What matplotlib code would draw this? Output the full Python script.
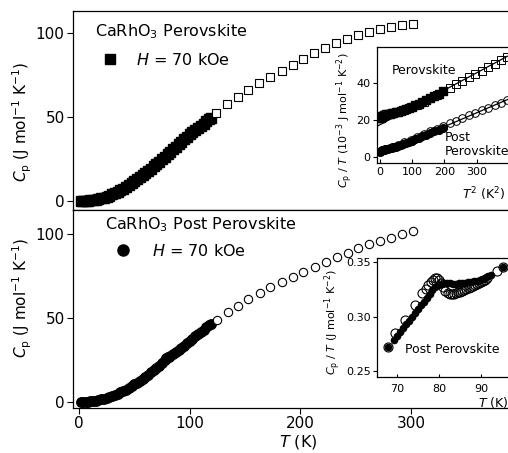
import matplotlib
matplotlib.use("Agg")
import matplotlib.pyplot as plt
from matplotlib.lines import Line2D

plt.rcParams["font.family"] = ["DejaVu Sans"]
plt.rcParams["mathtext.fontset"] = "dejavusans"

# ---- main panels: Cp vs T ----
# perovskite, H = 70 kOe (filled)
pv_T_fill = [2, 4, 6, 8, 10, 12.5, 15, 17.5, 20, 22.5, 25, 27.5, 30, 32.5, 35, 37.5, 40,
             42.5, 45, 47.5, 50, 52.5, 55, 57.5, 60, 62.5, 65, 67.5, 70, 72.5, 75, 77.5,
             80, 82.5, 85, 87.5, 90, 92.5, 95, 97.5, 100, 102.5, 105, 107.5, 110, 112.5,
             115, 117.5, 119]
pv_Cp_fill = [0.0, 0.05, 0.1, 0.2, 0.3, 0.5, 0.8, 1.1, 1.5, 2.0, 2.6, 3.2, 3.9, 4.6, 5.4,
              6.3, 7.3, 8.3, 9.3, 10.4, 11.6, 12.8, 14.0, 15.3, 16.6, 17.9, 19.2, 20.6,
              22.0, 23.4, 24.9, 26.4, 27.9, 29.4, 30.9, 32.4, 33.9, 35.3, 36.8, 38.2, 39.6,
              41.0, 42.3, 43.6, 44.9, 46.1, 47.3, 48.5, 49.3]
# perovskite, open
pv_T_open = [124, 134, 144, 153, 163, 173, 183, 193, 202, 212, 222, 232, 242, 252, 262,
             272, 282, 292, 302]
pv_Cp_open = [52.2, 57.5, 62.0, 66.0, 70.0, 73.8, 77.2, 81.0, 84.5, 88.0, 91.0, 94.0,
              96.4, 98.8, 100.6, 102.4, 103.6, 104.8, 105.3]

# post perovskite, H = 70 kOe (filled)
pp_T_fill = [2, 4, 6, 8, 10, 12.5, 15, 17.5, 20, 22.5, 25, 27.5, 30, 32.5, 35, 37.5, 40,
             42.5, 45, 47.5, 50, 52.5, 55, 57.5, 60, 62.5, 65, 67.5, 70, 72.5, 75, 77.5,
             79, 80, 81, 82.5, 85, 87.5, 90, 92.5, 95, 97.5, 100, 102.5, 105, 107.5, 110,
             112.5, 115, 117.5, 119]
pp_Cp_fill = [0.0, 0.05, 0.1, 0.2, 0.3, 0.5, 0.8, 1.1, 1.5, 1.9, 2.4, 2.9, 3.5, 4.2, 4.9,
              5.7, 6.5, 7.4, 8.4, 9.4, 10.4, 11.5, 12.6, 13.8, 15.0, 16.3, 17.6, 18.9,
              20.2, 21.7, 23.2, 25.2, 26.4, 26.6, 26.7, 27.1, 28.3, 29.6, 30.9, 32.2, 33.6,
              34.9, 36.3, 37.6, 39.0, 40.4, 41.8, 43.1, 44.5, 45.7, 46.5]
# post perovskite, open
pp_T_open = [124.5, 134.6, 143.7, 153, 163.5, 173, 183, 193, 202.6, 213, 223, 232.8,
             242.7, 252, 262, 272, 281.5, 292, 302]
pp_Cp_open = [48.8, 53.6, 57.0, 61.3, 64.9, 68.5, 71.4, 74.4, 77.4, 80.4, 83.3, 86.3,
              88.7, 91.7, 94.0, 95.8, 97.6, 100.0, 101.8]

# ---- inset 1: Cp/T vs T^2 (10^-3 J mol^-1 K^-2) ----
ins_pv_T2_fill = [1, 2, 4, 6, 9, 12, 16, 20, 25, 30, 36, 42, 49, 56, 64, 72, 81, 90, 100,
                  110, 121, 132, 144, 156, 169, 182, 196]
ins_pv_C_fill = [21.0, 21.4, 21.9, 22.2, 22.5, 22.7, 22.9, 23.1, 23.3, 23.5, 23.7, 23.9,
                 24.2, 24.5, 24.9, 25.4, 25.9, 26.5, 27.2, 28.0, 28.9, 29.8, 30.9, 32.0,
                 33.2, 34.4, 35.7]
ins_pv_T2_open = [16, 36, 56, 76, 96, 116, 136, 156, 176, 196, 216, 236, 256, 276, 296,
                  316, 336, 356, 376, 396]
ins_pv_C_open = [22.8, 23.7, 24.6, 25.6, 26.9, 28.4, 30.1, 32.0, 33.9, 35.7, 37.6, 39.4,
                 41.3, 43.2, 45.0, 46.9, 48.8, 50.6, 52.5, 54.3]
ins_pp_T2_fill = ins_pv_T2_fill
ins_pp_C_fill = [3.0, 3.2, 3.4, 3.6, 3.8, 4.0, 4.2, 4.4, 4.6, 4.8, 5.0, 5.3, 5.7, 6.1, 6.5,
                 7.0, 7.6, 8.2, 8.9, 9.6, 10.4, 11.2, 12.1, 13.0, 14.0, 14.9, 16.0]
ins_pp_T2_open = ins_pv_T2_open
ins_pp_C_open = [4.0, 5.2, 6.4, 7.9, 9.4, 10.9, 12.4, 13.9, 15.4, 16.9, 18.4, 19.8, 21.2,
                 22.6, 24.0, 25.4, 26.8, 28.2, 29.6, 31.0]
# linear fits
fit_T2 = [-12, 400]
fit_pv = [16.4, 55.1]
fit_pp = [0.6, 31.5]

# ---- inset 2: post perovskite Cp/T vs T near transition ----
tr_T_fill = [67.8, 69.3, 70.0, 70.7, 71.4, 72.1, 72.8, 73.5, 74.2, 74.9, 75.6, 76.3, 77.0,
             77.7, 78.4, 79.1, 79.8, 80.5, 81.2, 81.9, 82.6, 83.3, 84.0, 84.7, 85.4, 86.1,
             86.8, 87.5, 88.2, 88.9, 89.6, 90.3, 91.0, 91.7, 92.4, 95.3]
tr_C_fill = [0.2725, 0.2790, 0.2825, 0.2860, 0.2895, 0.2930, 0.2965, 0.3000, 0.3035,
             0.3070, 0.3105, 0.3140, 0.3175, 0.3210, 0.3245, 0.3275, 0.3295, 0.3305,
             0.3308, 0.3308, 0.3306, 0.3305, 0.3305, 0.3306, 0.3308, 0.3311, 0.3315,
             0.3320, 0.3326, 0.3333, 0.3341, 0.3350, 0.3360, 0.3371, 0.3383, 0.3455]
tr_T_open = [67.8, 69.5, 71.9, 74.3, 76.0, 76.8, 77.4, 78.0, 78.5, 79.0, 79.5, 80.0, 80.5,
             81.0, 81.5, 82.0, 82.5, 83.0, 83.5, 84.0, 84.5, 85.0, 85.5, 86.0, 86.5, 87.0,
             87.5, 88.0, 88.5, 89.0, 89.5, 90.0, 90.5, 91.0, 91.5, 93.7, 95.3]
tr_C_open = [0.272, 0.2855, 0.297, 0.311, 0.322, 0.3255, 0.329, 0.332, 0.334, 0.3355,
             0.3355, 0.334, 0.331, 0.327, 0.3235, 0.3215, 0.3205, 0.3205, 0.321, 0.3215,
             0.3225, 0.323, 0.324, 0.3248, 0.3256, 0.3265, 0.3274, 0.3283, 0.3292, 0.3302,
             0.3312, 0.3322, 0.3332, 0.3342, 0.3352, 0.342, 0.3455]

W, H = 508, 453


def px_box(left, top, right, bottom):
    return [left / W, 1 - bottom / H, (right - left) / W, (bottom - top) / H]


def style_main(ax):
    ax.set_xlim(-5.4, 395)
    ax.set_xticks([0, 100, 200, 300])
    ax.set_yticks([0, 50, 100])
    ax.tick_params(direction="out", length=4, width=0.8, labelsize=11, pad=2,
                   top=False, right=False)
    for s in ax.spines.values():
        s.set_linewidth(0.9)
    ax.set_ylabel(r"$C_\mathrm{p}$ (J mol$^{-1}$ K$^{-1}$)", fontsize=11)


fig = plt.figure(figsize=(W / 100, H / 100), dpi=100)

# top panel: perovskite
ax1 = fig.add_axes(px_box(73, 11, 516.2, 210))
ax1.plot(pv_T_fill, pv_Cp_fill, ls="none", marker="s", ms=6.8, color="k")
ax1.plot(pv_T_open, pv_Cp_open, ls="none", marker="s", ms=6, mfc="white", mec="k", mew=0.8)
style_main(ax1)
ax1.set_ylim(-5.4, 113.1)
ax1.tick_params(axis="x", labelbottom=False, length=3)
ax1.yaxis.set_label_coords(-0.088, 0.442)
ax1.text(0.0496, 0.894, r"CaRhO$_3$ Perovskite", transform=ax1.transAxes,
         fontsize=11.5, va="center", ha="left")
ax1.legend(handles=[Line2D([], [], ls="none", marker="s", ms=7.5, color="k")],
           labels=[r"$H$ = 70 kOe"], loc="center left", bbox_to_anchor=(0.0663, 0.754),
           frameon=False, borderpad=0, borderaxespad=0, handlelength=1.0,
           handletextpad=1.13, fontsize=11.5)

# bottom panel: post perovskite
ax2 = fig.add_axes(px_box(73, 210, 516.2, 408))
ax2.plot(pp_T_fill, pp_Cp_fill, ls="none", marker="o", ms=6.8, color="k")
ax2.plot(pp_T_open, pp_Cp_open, ls="none", marker="o", ms=6, mfc="white", mec="k", mew=0.8)
style_main(ax2)
ax2.set_ylim(-3.6, 114.3)
ax2.yaxis.set_label_coords(-0.088, 0.556)
ax2.set_xlabel(r"$T$ (K)", fontsize=11.5)
ax2.xaxis.set_label_coords(0.508, -0.128)
ax2.text(0.0722, 0.924, r"CaRhO$_3$ Post Perovskite", transform=ax2.transAxes,
         fontsize=11.5, va="center", ha="left")
ax2.legend(handles=[Line2D([], [], ls="none", marker="o", ms=8, color="k")],
           labels=[r"$H$ = 70 kOe"], loc="center left", bbox_to_anchor=(0.0957, 0.793),
           frameon=False, borderpad=0, borderaxespad=0, handlelength=1.0,
           handletextpad=1.26, fontsize=11.5)

# inset 1
in1 = fig.add_axes(px_box(376.7, 46.7, 512, 163.3))
in1.plot(fit_T2, fit_pv, color="k", lw=0.9)
in1.plot(fit_T2, fit_pp, color="k", lw=0.9)
in1.plot(ins_pv_T2_fill, ins_pv_C_fill, ls="none", marker="s", ms=5.5, color="k")
in1.plot(ins_pv_T2_open, ins_pv_C_open, ls="none", marker="s", ms=5.5, mfc="none",
         mec="k", mew=0.7)
in1.plot(ins_pp_T2_fill, ins_pp_C_fill, ls="none", marker="o", ms=5.5, color="k")
in1.plot(ins_pp_T2_open, ins_pp_C_open, ls="none", marker="o", ms=5.5, mfc="none",
         mec="k", mew=0.7)
in1.set_xlim(-10, 410)
in1.set_ylim(-3.4, 59.9)
in1.set_xticks([0, 100, 200, 300])
in1.set_yticks([0, 20, 40])
in1.tick_params(axis="y", direction="out", length=3, width=0.8, labelsize=8, pad=1.5)
in1.tick_params(axis="x", direction="in", length=3, width=0.8, labelsize=8, pad=3)
in1.set_ylabel(r"$C_\mathrm{p}$ / $T$ (10$^{-3}$ J mol$^{-1}$ K$^{-2}$)", fontsize=8)
in1.yaxis.set_label_coords(-0.158, 0.37)
in1.set_xlabel(r"$T^2$ (K$^2$)", fontsize=9, loc="right")
in1.xaxis.set_label_coords(0.948, -0.19)
in1.text(0.111, 0.80, "Perovskite", transform=in1.transAxes, fontsize=9,
         va="center", ha="left")
in1.text(0.505, 0.28, "Post\nPerovskite", transform=in1.transAxes, fontsize=9,
         va="top", ha="left", linespacing=1.1)

# inset 2
in2 = fig.add_axes(px_box(377, 258.3, 510.6, 376.7))
in2.plot(tr_T_fill, tr_C_fill, ls="none", marker="o", ms=4.5, color="k")
in2.plot(tr_T_open, tr_C_open, ls="none", marker="o", ms=6.5, mfc="none", mec="k", mew=0.8)
in2.set_xlim(65.2, 97)
in2.set_ylim(0.245, 0.3537)
in2.set_xticks([70, 80, 90])
in2.set_yticks([0.25, 0.30, 0.35])
in2.set_yticklabels(["0.25", "0.30", "0.35"])
in2.tick_params(axis="y", direction="out", length=3, width=0.8, labelsize=8, pad=1.5)
in2.tick_params(axis="x", direction="in", length=2, width=0.8, labelsize=8, pad=5)
in2.set_ylabel(r"$C_\mathrm{p}$ / $T$ (J mol$^{-1}$ K$^{-2}$)", fontsize=8)
in2.yaxis.set_label_coords(-0.255, 0.46)
in2.set_xlabel(r"$T$ (K)", fontsize=9, loc="right")
in2.xaxis.set_label_coords(0.985, -0.155)
in2.text(0.21, 0.226, "Post Perovskite", transform=in2.transAxes, fontsize=9,
         va="center", ha="left")

for a in (in1, in2):
    for s in a.spines.values():
        s.set_linewidth(0.9)

fig.savefig("out.png", dpi=100)
